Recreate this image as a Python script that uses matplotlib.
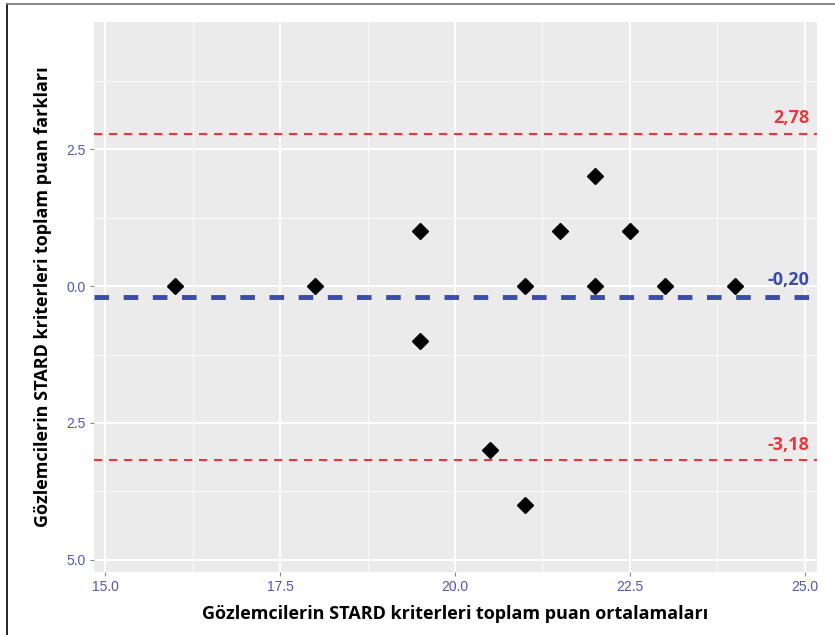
import matplotlib.pyplot as plt
from matplotlib.ticker import FuncFormatter, MultipleLocator
from matplotlib.lines import Line2D

# Ortalama ve fark değerleri
ortalama = [16, 18, 19.5, 19.5, 20.5, 21, 21, 21.5, 22, 22, 22.5, 23, 24]
fark = [0, 0, 1, -1, -3, 0, -4, 1, 2, 0, 1, 0, 0]

ust_sinir = 2.78
ort_fark = -0.20
alt_sinir = -3.18
etiketler = ["2,78", "-0,20", "-3,18"]

kirmizi = "#e8383d"
mavi = "#3a4ba8"
tik_renk = "#4f55b8"

fig = plt.figure(figsize=(8.35, 6.35), dpi=100)
ax = fig.add_axes([0.1126, 0.0992, 0.8654, 0.8662])
ax.set_facecolor("#ebebeb")

ax.set_xlim(14.84, 25.17)
ax.set_ylim(-5.22, 4.82)

ax.xaxis.set_major_locator(MultipleLocator(2.5))
ax.xaxis.set_minor_locator(MultipleLocator(1.25))
ax.yaxis.set_major_locator(MultipleLocator(2.5))
ax.yaxis.set_minor_locator(MultipleLocator(1.25))
ax.grid(which="major", color="white", lw=1.3)
ax.grid(which="minor", color="white", lw=0.6)
ax.set_axisbelow(True)
for s in ax.spines.values():
    s.set_visible(False)

# Görseldeki gibi eksi işaretleri olmadan
ax.yaxis.set_major_formatter(FuncFormatter(lambda v, p: f"{abs(v):.1f}"))
ax.xaxis.set_major_formatter(FuncFormatter(lambda v, p: f"{v:.1f}"))
ax.tick_params(which="major", length=3, color="#888888", labelcolor=tik_renk,
               labelsize=10, pad=3)
ax.tick_params(which="minor", length=0)
for t in ax.get_xticklabels() + ax.get_yticklabels():
    t.set_family("Liberation Sans")

ax.axhline(ust_sinir, color=kirmizi, lw=1.5, ls=(0, (4, 3.2)))
ax.axhline(alt_sinir, color=kirmizi, lw=1.5, ls=(0, (4, 3.2)))
ax.axhline(ort_fark, color=mavi, lw=3.5, ls=(0, (3, 3)))

ax.plot(ortalama, fark, ls="none", marker="D", ms=8, color="black")

x_et = 25.07
ax.text(x_et, ust_sinir + 0.12, etiketler[0], color=kirmizi, ha="right", va="bottom",
        fontsize=13, fontweight="bold", family="Open Sans")
ax.text(x_et, ort_fark + 0.14, etiketler[1], color=mavi, ha="right", va="bottom",
        fontsize=13, fontweight="bold", family="Open Sans")
ax.text(x_et, alt_sinir + 0.12, etiketler[2], color=kirmizi, ha="right", va="bottom",
        fontsize=13, fontweight="bold", family="Open Sans")

ax.set_xlabel("Gözlemcilerin STARD kriterleri toplam puan ortalamaları",
              fontsize=13, fontweight="bold", family="Open Sans", labelpad=8)
ax.set_ylabel("Gözlemcilerin STARD kriterleri toplam puan farkları",
              fontsize=13, fontweight="bold", family="Open Sans", labelpad=10)

# Dış çerçeve (sol ve üst)
fig.add_artist(Line2D([7 / 835, 7 / 835], [0, 1 - 4 / 635], color="black", lw=1.2,
                      transform=fig.transFigure))
fig.add_artist(Line2D([7 / 835, 1], [1 - 4 / 635, 1 - 4 / 635], color="#777777", lw=1.2,
                      transform=fig.transFigure))

fig.savefig("out.png", dpi=100)
